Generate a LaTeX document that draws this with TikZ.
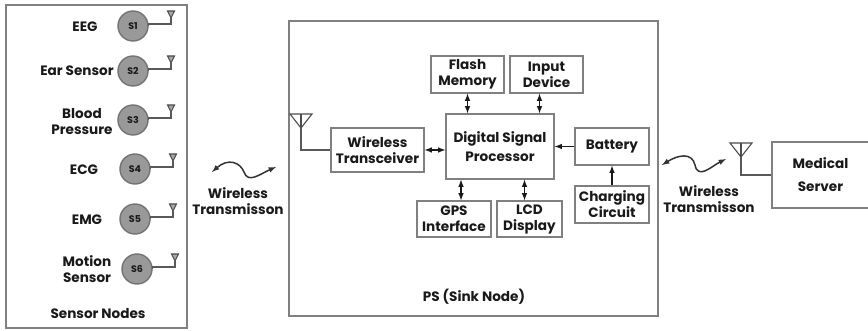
\documentclass[tikz,border=0pt]{standalone}
\usepackage{fontspec}
\setmainfont{Poppins}
\tikzset{
  panel/.style={draw=black!50, line width=1.5pt},
  blockbox/.style={draw=black!50, line width=1.3pt, align=center, inner sep=0pt},
  sensorcirc/.style={circle, draw=black!55, fill=black!40, line width=1.4pt, minimum size=30pt, inner sep=0pt, font=\fontsize{9.5}{9.5}\selectfont\bfseries},
  wire/.style={draw=black!65, line width=1.2pt},
  antenna/.style={draw=black!70, line width=1.1pt},
  biarrow/.style={<->, >=latex, black!90, line width=1.5pt},
  onearrow/.style={->, >=latex, black!90, line width=1.5pt},
  wave/.style={<->, >=latex, black!80, line width=1.5pt},
  lbl/.style={align=center, inner sep=0pt}
}
\begin{document}
\begin{tikzpicture}[x=1pt, y=-1pt, font=\fontsize{13.6}{16}\selectfont\bfseries, text=black!90]
  \useasboundingbox (0,0) rectangle (868,331);

  % Outer frames
  \draw[panel] (6,5) rectangle (187,328);
  \draw[panel] (289,21) rectangle (658,316);

  % Sensors: name, circle x, circle y, label x, label y, label
  \foreach \n/\cx/\cy/\lx/\ly/\txt in {1/133/26/85/27/EEG, 2/133/71/77/71/Ear Sensor,
    3/133/120/82/122/{Blood\\Pressure}, 4/135/169/84/170/ECG, 5/135/219/87/220/EMG,
    6/137/269/87/269/{Motion\\Sensor}} {
    \node[sensorcirc] (s\n) at (\cx,\cy) {S\n};
    \node[lbl] (l\n) at (\lx,\ly) {\txt};
    \coordinate (ant\n) at (\cx+38,\cy-8);
    \draw[antenna, fill=black!35] (ant\n) -- ++(-3.5,-7) -- ++(7,0) -- cycle;
    \draw[wire] (s\n.east) -- ++(0,-2) -| (ant\n);
  }
  \node[lbl] (sensornodes) at (98,314) {Sensor Nodes};

  % Blocks inside the sink node
  \node[blockbox, minimum width=93pt, minimum height=44pt] (trans) at (377.5,150) {Wireless\\Transceiver};
  \node[blockbox, minimum width=108pt, minimum height=65pt] (dsp) at (500,146.5) {Digital Signal\\[3pt]Processor};
  \node[blockbox, minimum width=73pt, minimum height=37pt] (flash) at (467.5,74.5) {Flash\\Memory};
  \node[blockbox, minimum width=73pt, minimum height=37pt] (input) at (546.5,74.5) {Input\\Device};
  \node[blockbox, minimum width=74pt, minimum height=36pt] (gps) at (454,219) {GPS\\Interface};
  \node[blockbox, minimum width=65pt, minimum height=36pt] (lcd) at (529.5,219) {LCD\\Display};
  \node[blockbox, minimum width=74pt, minimum height=37pt] (battery) at (612,146.5) {Battery};
  \node[blockbox, minimum width=74pt, minimum height=37pt] (charging) at (612,204.5) {Charging\\Circuit};
  \node[lbl] (sink) at (474,297) {PS (Sink Node)};

  % Medical server runs off the right edge
  \node[blockbox, minimum width=97pt, minimum height=66pt, text width=97pt] (server) at (820.5,175) {Medical\\[7pt]Server};

  % Arrows round the processor
  \draw[biarrow] (trans.east) -- (dsp.west |- trans.east);
  \draw[biarrow] (flash.south) -- (flash.south |- dsp.north);
  \draw[biarrow] ([xshift=-7pt]input.south) -- ([xshift=-7pt]input.south |- dsp.north);
  \draw[biarrow] ([xshift=7pt]gps.north) -- ([xshift=7pt]gps.north |- dsp.south);
  \draw[biarrow] ([xshift=-5pt]lcd.north) -- ([xshift=-5pt]lcd.north |- dsp.south);
  \draw[onearrow] (battery.west) -- (dsp.east |- battery.west);
  \draw[onearrow] (charging.north) -- (battery.south);

  % Antennas on the sink node and the server
  \coordinate (anta) at (301,128);
  \coordinate (antb) at (741,157);
  \draw[antenna] (anta) -- ++(-11,-14) -- ++(22,0) -- cycle;
  \draw[antenna] (antb) -- ++(-11,-14) -- ++(22,0) -- cycle;
  \draw[antenna] (anta) -- ++(0,-14);
  \draw[antenna] (antb) -- ++(0,-14);
  \draw[wire] (anta) |- (trans.west);
  \draw[wire] (antb) |- (server.west);

  % Wireless links
  \coordinate (wa1) at (212,172);
  \coordinate (wa2) at (276,167);
  \coordinate (wb1) at (662,165);
  \coordinate (wb2) at (726,159);
  \draw[wave] (wa1) .. controls (228,158) and (240,162) .. (244,172)
    .. controls (248,184) and (260,174) .. (wa2);
  \draw[wave] (wb1) .. controls (678,155) and (692,152) .. (695,165)
    .. controls (698,180) and (712,166) .. (wb2);
  \node[lbl] (linka) at (238,201) {Wireless\\Transmisson};
  \node[lbl] (linkb) at (709,199) {Wireless\\Transmisson};
\end{tikzpicture}
\end{document}
